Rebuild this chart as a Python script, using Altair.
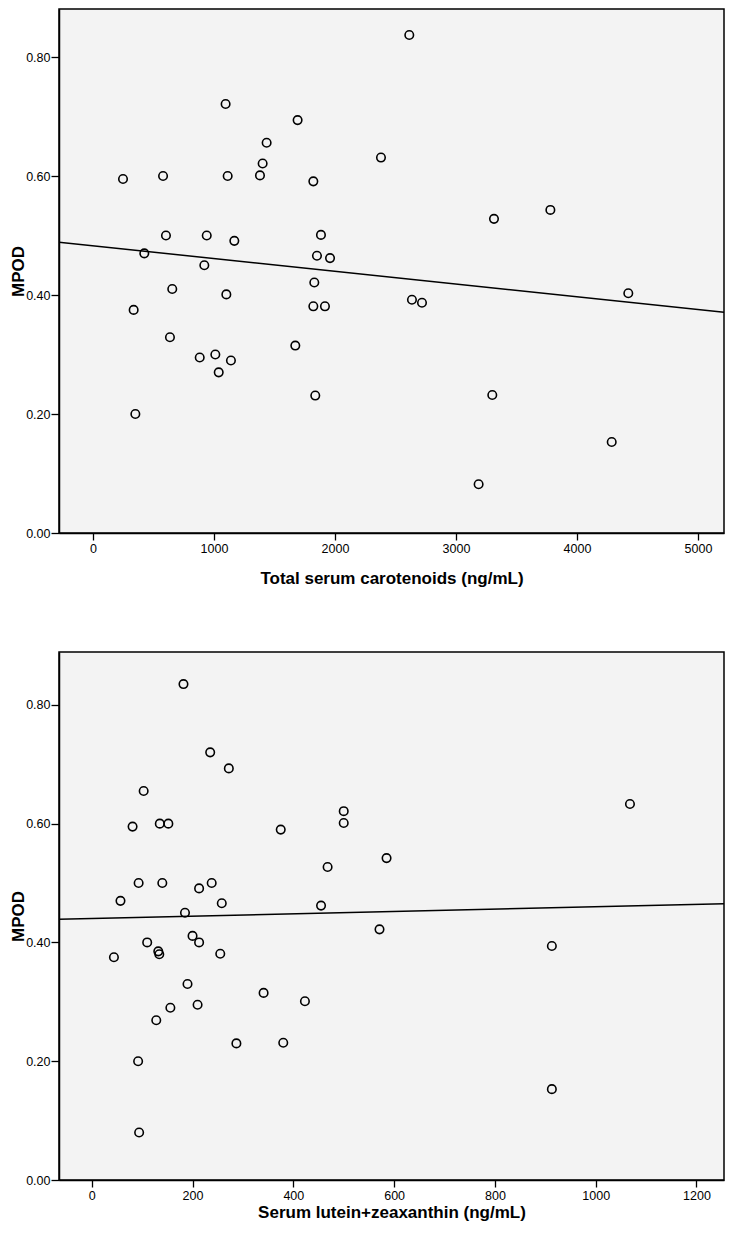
import altair as alt
import pandas as pd

# Top panel: total serum carotenoids vs MPOD
top_x = [248, 579, 1096, 1113, 1380, 1402, 1435, 1691, 1821, 603, 940, 1168, 1884,
         424, 920, 1851, 1959, 655, 1102, 1829, 1821, 1917, 336, 2614, 2380, 3314,
         3780, 4424, 2636, 2719, 636, 882, 1011, 1140, 1039, 1672, 1837, 350, 3300,
         4287, 3187]
top_y = [0.595, 0.600, 0.721, 0.600, 0.601, 0.621, 0.656, 0.694, 0.591, 0.500, 0.500,
         0.491, 0.501, 0.470, 0.450, 0.466, 0.462, 0.410, 0.401, 0.421, 0.381, 0.381,
         0.375, 0.837, 0.631, 0.528, 0.543, 0.403, 0.392, 0.387, 0.329, 0.295, 0.300,
         0.290, 0.270, 0.315, 0.231, 0.200, 0.232, 0.153, 0.082]

# Bottom panel: serum lutein+zeaxanthin vs MPOD
bot_x = [182, 235, 272, 103, 81, 135, 152, 375, 500, 500, 468, 93, 140, 213, 238, 57,
         258, 455, 185, 1068, 585, 571, 913, 200, 110, 213, 132, 134, 255, 44, 190,
         341, 423, 210, 156, 128, 287, 380, 92, 94, 913]
bot_y = [0.835, 0.720, 0.693, 0.655, 0.595, 0.600, 0.600, 0.590, 0.621, 0.601, 0.527,
         0.500, 0.500, 0.491, 0.500, 0.470, 0.466, 0.462, 0.450, 0.633, 0.542, 0.422,
         0.394, 0.411, 0.400, 0.400, 0.385, 0.380, 0.381, 0.375, 0.330, 0.315, 0.301,
         0.295, 0.290, 0.269, 0.230, 0.231, 0.200, 0.080, 0.153]

top_ticks = [0, 1000, 2000, 3000, 4000, 5000]
bot_ticks = [0, 200, 400, 600, 800, 1000, 1200]
y_ticks = [0.0, 0.2, 0.4, 0.6, 0.8]

FONT = "Liberation Sans"


def panel(xs, ys, xdom, xticks, xtitle, ymax, h, xtitle_pad):
    df = pd.DataFrame({"x": xs, "y": ys})
    xenc = alt.X("x:Q",
                 scale=alt.Scale(domain=xdom, nice=False, zero=False),
                 axis=alt.Axis(values=xticks, title=xtitle, format="d",
                               tickSize=7, labelPadding=2, titlePadding=xtitle_pad))
    yenc = alt.Y("y:Q",
                 scale=alt.Scale(domain=[0, ymax], nice=False, zero=False),
                 axis=alt.Axis(values=y_ticks, title="MPOD", format=".2f",
                               tickSize=8, labelPadding=1, titlePadding=-2))
    base = alt.Chart(df)
    pts = base.mark_point(shape="circle", filled=False, color="black",
                          size=72, strokeWidth=1.6, opacity=1).encode(x=xenc, y=yenc)
    line = base.transform_regression("x", "y", extent=xdom).mark_line(
        color="black", strokeWidth=1.5, clip=True).encode(x="x:Q", y="y:Q")
    return alt.layer(pts, line).properties(width=665, height=h)


top = panel(top_x, top_y, [-281, 5215], top_ticks,
            "Total serum carotenoids (ng/mL)", 0.8807, 524, 16)
bot = panel(bot_x, bot_y, [-65, 1254.6], bot_ticks,
            "Serum lutein+zeaxanthin (ng/mL)", 0.889, 528, 3)

chart = alt.vconcat(top, bot, spacing=63).properties(
    padding={"left": 0, "top": 0, "right": 0, "bottom": 0}, background="white"
).configure_view(
    fill="#f3f3f3", stroke="black", strokeWidth=1.5
).configure_axis(
    domainColor="black", domainWidth=1.5, tickColor="black", tickWidth=1.3,
    grid=False, labelFont=FONT, labelFontSize=12.5, labelColor="black",
    titleFont=FONT, titleFontSize=17, titleFontWeight="bold", titleColor="black"
)

chart.save("out.html", embed_options={"renderer": "svg", "actions": False})
